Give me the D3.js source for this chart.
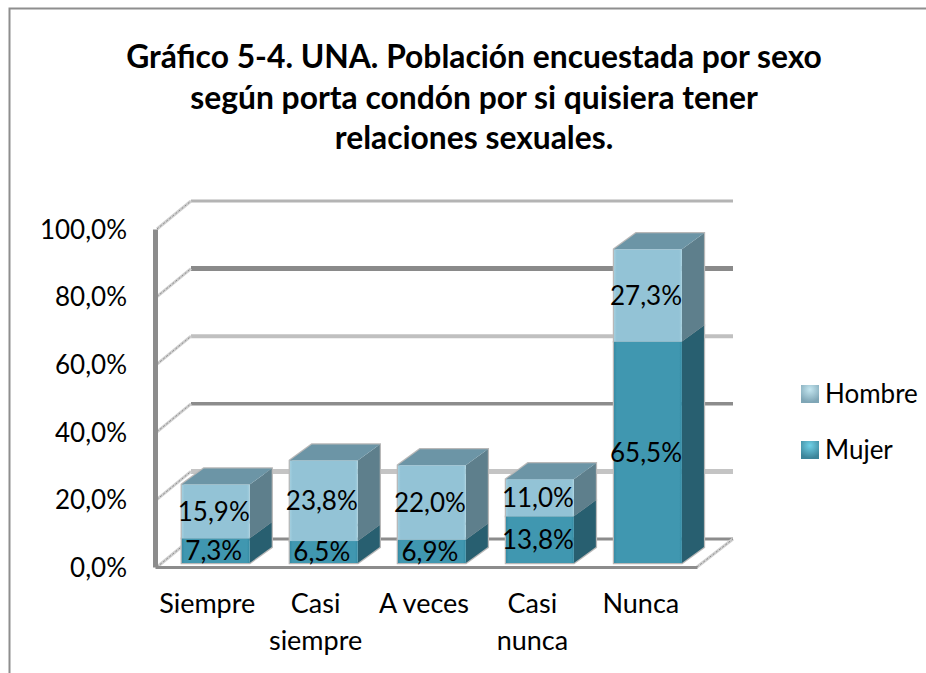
<!DOCTYPE html>
<html>
<head>
<meta charset="utf-8">
<script src="https://cdn.jsdelivr.net/npm/d3@7"></script>
<style>
  html, body { margin: 0; padding: 0; background: #fff; }
  svg { display: block; }
  text { font-family: Lato, "Open Sans", sans-serif; fill: #000; }
</style>
</head>
<body>
<svg id="chart" width="926" height="673"></svg>
<script>
const categories = ["Siempre", "Casi siempre", "A veces", "Casi nunca", "Nunca"];
const categoryLines = [["Siempre"], ["Casi", "siempre"], ["A veces"], ["Casi", "nunca"], ["Nunca"]];
const mujer = [7.3, 6.5, 6.9, 13.8, 65.5];
const hombre = [15.9, 23.8, 22.0, 11.0, 27.3];
const yTicks = [0, 20, 40, 60, 80, 100];
const titleLines = [
    "Gráfico 5-4. UNA. Población encuestada por sexo",
    "según porta condón por si quisiera tener",
    "relaciones sexuales."
];

const svg = d3.select("#chart");

// Wall depth of the 3D box and of the bars
const wallDx = 36, wallDy = 28;
const barDx = 22, barDy = 16, barLift = 4;

const x = d3.scaleBand().domain(categories).range([155, 697])
    .paddingInner(0.372).paddingOuter(0.194).align(0.64);
const xLabel = d3.scaleBand().domain(categories).range([155, 697]);
const y = d3.scaleLinear().domain([0, 100]).range([567, 229]);

const fmt = v => v.toFixed(1).replace(".", ",") + "%";

// Gradients for bar faces
const defs = svg.append("defs");
function addGradient(id, edge, mid) {
    const g = defs.append("linearGradient").attr("id", id);
    g.append("stop").attr("offset", "0%").attr("stop-color", edge);
    g.append("stop").attr("offset", "4%").attr("stop-color", mid);
    g.append("stop").attr("offset", "96%").attr("stop-color", mid);
    g.append("stop").attr("offset", "100%").attr("stop-color", edge);
}
addGradient("frontHombre", "#a3cfdf", "#93c3d6");
addGradient("frontMujer", "#338aa3", "#4097b0");
const blur = defs.append("filter").attr("id", "soft").attr("x", "-10%").attr("y", "-10%").attr("width", "120%").attr("height", "120%");
blur.append("feGaussianBlur").attr("stdDeviation", 0.5);

// Chart frame, only top and left are in the picture
svg.append("path")
    .attr("d", "M9.5,673V8.5H926")
    .attr("fill", "none").attr("stroke", "#8e8e8e").attr("stroke-width", 2);

// Title
svg.append("g").selectAll("text").data(titleLines).join("text")
    .attr("x", 474)
    .attr("y", (d, i) => 68 + i * 40.5)
    .attr("text-anchor", "middle")
    .attr("font-size", 31.8)
    .attr("font-weight", 700)
    .text(d => d);

// Back wall gridlines, alternating weight like the original
const gridStyle = {
    0: ["#8c8c8c", 3],
    20: ["#c4c4c4", 5],
    40: ["#8c8c8c", 3.5],
    60: ["#c0c0c0", 4],
    80: ["#8a8a8a", 5],
    100: ["#b4b4b4", 3]
};
const grid = svg.append("g");
grid.selectAll("line.grid").data(yTicks).join("line")
    .attr("class", "grid")
    .attr("x1", xLabel.range()[0] + wallDx)
    .attr("x2", xLabel.range()[1] + wallDx)
    .attr("y1", d => y(d) - wallDy)
    .attr("y2", d => y(d) - wallDy)
    .attr("stroke", d => gridStyle[d][0])
    .attr("stroke-width", d => gridStyle[d][1]);

// Side wall lines, stippled
[["#cfcfcf", 3, null], ["#8c8c8c", 1, "2,2"]].forEach(s => {
    grid.append("g").selectAll("line").data(yTicks).join("line")
        .attr("x1", xLabel.range()[0] + 2)
        .attr("x2", xLabel.range()[0] + wallDx)
        .attr("y1", d => y(d))
        .attr("y2", d => y(d) - wallDy)
        .attr("stroke", s[0]).attr("stroke-width", s[1]).attr("stroke-dasharray", s[2]);
    grid.append("line")
        .attr("x1", xLabel.range()[1])
        .attr("x2", xLabel.range()[1] + wallDx)
        .attr("y1", y(0))
        .attr("y2", y(0) - wallDy)
        .attr("stroke", s[0]).attr("stroke-width", s[1]).attr("stroke-dasharray", s[2]);
});

// Stacked 3D bars
const stackData = categories.map((c, i) => ({ category: c, mujer: mujer[i], hombre: hombre[i] }));
const series = d3.stack().keys(["mujer", "hombre"])(stackData);
const faces = {
    mujer: { front: "url(#frontMujer)", side: "#285f70", top: "#3f8ba1" },
    hombre: { front: "url(#frontHombre)", side: "#5e7f8c", top: "#6c95a6" }
};
const poly = pts => "M" + pts.map(p => p.join(",")).join("L") + "Z";

const bars = svg.append("g");
categories.forEach(cat => {
    const x0 = x(cat), x1 = x0 + x.bandwidth();
    const shadow = bars.append("g");
    series.forEach(s => {
        const d = s.find(v => v.data.category === cat);
        const top = y(d[1]) - barLift, bot = y(d[0]) - barLift;
        const f = faces[s.key];
        // soft grey halo around the box
        shadow.append("path")
            .attr("d", poly([[x0, top], [x0 + barDx, top - barDy], [x1 + barDx, top - barDy], [x1 + barDx, bot - barDy], [x1, bot], [x0, bot]]))
            .attr("fill", "none").attr("stroke", "#b8b8b8").attr("stroke-width", 2.5).attr("filter", "url(#soft)");
        bars.append("path")
            .attr("d", poly([[x1, top], [x1 + barDx, top - barDy], [x1 + barDx, bot - barDy], [x1, bot]]))
            .attr("fill", f.side);
        bars.append("rect")
            .attr("x", x0).attr("y", top).attr("width", x.bandwidth()).attr("height", bot - top)
            .attr("fill", f.front);
        if (s.key === "hombre") {
            bars.append("path")
                .attr("d", poly([[x0, top], [x0 + barDx, top - barDy], [x1 + barDx, top - barDy], [x1, top]]))
                .attr("fill", f.top);
        }
    });
});

// Data labels, centred on each segment
const labels = svg.append("g");
series.forEach(s => {
    labels.selectAll(null).data(s).join("text")
        .attr("x", d => x(d.data.category) + x.bandwidth() / 2 - 2)
        .attr("y", d => (y(d[0]) + y(d[1])) / 2 - barLift)
        .attr("dy", "0.36em")
        .attr("text-anchor", "middle")
        .attr("font-size", 26)
        .text(d => fmt(d[1] - d[0]));
});

// Front axes
const axisY = svg.append("g").attr("transform", "translate(155,0)")
    .call(d3.axisLeft(y).tickValues(yTicks).tickSize(0).tickPadding(28).tickFormat(fmt));
axisY.select(".domain").attr("stroke", "#8c8c8c").attr("stroke-width", 5);
axisY.selectAll("text").attr("font-size", 26).attr("font-family", null).attr("dy", "0.36em");

const axisX = svg.append("g").attr("transform", "translate(0,567)")
    .call(d3.axisBottom(xLabel).tickSize(0).tickFormat(""));
axisX.select(".domain").attr("stroke", "#8c8c8c").attr("stroke-width", 3);

svg.append("g").selectAll("text").data(categories).join("text")
    .attr("text-anchor", "middle")
    .attr("font-size", 27)
    .each(function (c, i) {
        d3.select(this).selectAll("tspan").data(categoryLines[i]).join("tspan")
            .attr("x", xLabel(c) + xLabel.bandwidth() / 2 - 2)
            .attr("y", (d, j) => 613 + j * 37)
            .text(d => d);
    });

// Legend
const legendKeys = ["Hombre", "Mujer"];
const legendY = d3.scalePoint().domain(legendKeys).range([394, 450]);
const legendGrad = { Hombre: ["#c4e6f0", "#7fa6b6"], Mujer: ["#6fd0e6", "#3c8499"] };
legendKeys.forEach(k => {
    const g = defs.append("radialGradient").attr("id", "sw" + k).attr("cy", "25%").attr("r", "70%");
    g.append("stop").attr("offset", "0%").attr("stop-color", legendGrad[k][0]);
    g.append("stop").attr("offset", "100%").attr("stop-color", legendGrad[k][1]);
});
const legend = svg.append("g").selectAll("g").data(legendKeys).join("g")
    .attr("transform", d => "translate(801," + legendY(d) + ")");
legend.append("rect").attr("y", -9).attr("width", 18).attr("height", 18)
    .attr("fill", d => "url(#sw" + d + ")");
legend.append("text").attr("x", 24).attr("dy", "0.36em").attr("font-size", 26).text(d => d);
</script>
</body>
</html>
